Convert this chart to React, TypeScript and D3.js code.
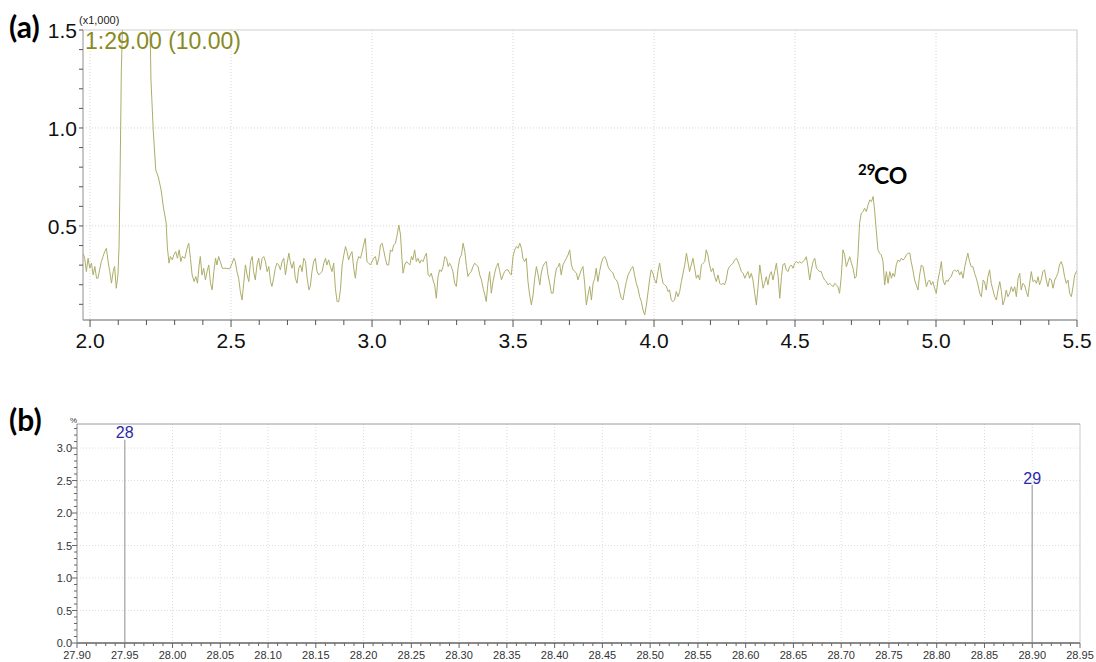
import React from "react";
import * as d3 from "d3";

// TIC trace, m/z 29 (time in min, intensity in counts)
const chromatogram: [number, number][] = [
  [1.975,361],[1.981,335],[1.987,267],[1.993,335],[1.999,284],[2.005,310],[2.011,250],[2.017,293],[2.023,233],[2.028,233],
  [2.034,276],[2.040,318],[2.046,344],[2.052,369],[2.058,386],[2.064,318],[2.070,267],[2.076,208],[2.082,267],[2.087,293],
  [2.093,182],[2.099,250],[2.103,403],[2.107,820],[2.111,1300],[2.116,1560],[2.130,1700],[2.160,1800],[2.190,1750],[2.213,1500],
  [2.216,1245],[2.224,990],[2.233,786],[2.242,750],[2.252,684],[2.260,597],[2.270,515],[2.274,393],[2.280,310],
  [2.285,344],[2.292,327],[2.297,352],[2.304,369],[2.310,335],[2.316,378],[2.322,318],[2.327,344],[2.336,335],[2.344,386],
  [2.350,412],[2.356,335],[2.362,250],[2.369,216],[2.375,242],[2.381,208],[2.387,301],[2.391,344],[2.397,250],[2.403,284],
  [2.409,225],[2.415,267],[2.421,301],[2.427,208],[2.433,174],[2.439,267],[2.445,335],[2.450,301],[2.456,344],[2.462,318],
  [2.469,284],[2.483,284],[2.495,281],[2.504,310],[2.510,335],[2.515,318],[2.521,267],[2.527,233],[2.533,165],[2.539,122],
  [2.545,208],[2.551,301],[2.557,250],[2.563,216],[2.569,318],[2.575,344],[2.580,267],[2.586,225],[2.592,301],[2.598,335],
  [2.604,276],[2.610,335],[2.616,344],[2.622,318],[2.628,267],[2.634,293],[2.640,216],[2.645,191],[2.651,233],[2.657,284],
  [2.663,310],[2.669,301],[2.675,276],[2.681,318],[2.687,335],[2.693,250],[2.699,310],[2.705,361],[2.710,318],[2.716,284],
  [2.722,318],[2.728,233],[2.734,208],[2.740,284],[2.746,301],[2.752,267],[2.758,335],[2.764,318],[2.770,233],[2.776,174],
  [2.781,191],[2.787,267],[2.793,318],[2.799,335],[2.805,267],[2.811,250],[2.817,259],[2.823,267],[2.829,310],[2.835,335],
  [2.840,301],[2.846,327],[2.852,293],[2.858,267],[2.864,310],[2.870,182],[2.876,114],[2.882,114],[2.888,174],[2.894,301],
  [2.900,352],[2.906,395],[2.911,369],[2.917,327],[2.923,352],[2.929,369],[2.935,284],[2.941,233],[2.947,318],[2.953,344],
  [2.959,335],[2.965,369],[2.970,403],[2.976,437],[2.982,318],[2.988,310],[2.994,301],[3.000,318],[3.006,335],[3.012,344],
  [3.018,301],[3.024,335],[3.030,403],[3.036,412],[3.041,378],[3.047,335],[3.053,301],[3.059,301],[3.065,378],[3.071,369],
  [3.077,403],[3.083,412],[3.089,454],[3.095,505],[3.101,454],[3.106,335],[3.110,259],[3.116,301],[3.122,318],[3.128,310],
  [3.134,301],[3.140,344],[3.145,327],[3.151,378],[3.157,318],[3.163,335],[3.169,310],[3.175,327],[3.181,318],[3.187,344],
  [3.193,361],[3.199,250],[3.205,242],[3.210,259],[3.216,225],[3.222,199],[3.228,131],[3.234,242],[3.240,276],[3.246,267],
  [3.252,293],[3.258,344],[3.264,335],[3.270,293],[3.275,310],[3.281,293],[3.287,267],[3.293,208],[3.299,191],[3.305,284],
  [3.311,335],[3.317,352],[3.323,412],[3.329,369],[3.335,293],[3.340,242],[3.346,259],[3.352,267],[3.358,293],[3.364,310],
  [3.370,301],[3.376,293],[3.382,250],[3.388,225],[3.394,182],[3.400,148],[3.405,114],[3.411,208],[3.417,267],[3.423,157],
  [3.429,216],[3.435,259],[3.441,293],[3.447,310],[3.453,267],[3.459,225],[3.465,250],[3.470,267],[3.476,276],[3.482,276],
  [3.488,259],[3.494,250],[3.500,344],[3.506,378],[3.512,395],[3.518,386],[3.524,412],[3.530,386],[3.535,335],[3.541,318],
  [3.547,335],[3.553,216],[3.559,148],[3.565,97],[3.571,148],[3.577,233],[3.583,293],[3.589,250],[3.595,199],[3.600,259],
  [3.606,293],[3.612,310],[3.618,318],[3.624,250],[3.630,208],[3.636,157],[3.642,157],[3.648,233],[3.654,284],[3.660,293],
  [3.665,310],[3.671,250],[3.677,301],[3.683,318],[3.689,335],[3.695,352],[3.701,378],[3.707,301],[3.713,276],[3.719,267],
  [3.725,259],[3.730,225],[3.736,250],[3.742,276],[3.748,293],[3.754,208],[3.760,97],[3.766,148],[3.772,191],[3.778,122],
  [3.784,208],[3.790,233],[3.795,284],[3.801,216],[3.807,267],[3.813,310],[3.819,335],[3.825,344],[3.831,327],[3.837,293],
  [3.843,276],[3.849,267],[3.855,259],[3.860,233],[3.866,225],[3.872,208],[3.878,165],[3.884,131],[3.890,122],[3.896,174],
  [3.902,216],[3.908,250],[3.914,267],[3.920,284],[3.925,293],[3.931,250],[3.937,208],[3.943,182],[3.949,139],[3.955,114],
  [3.961,71],[3.967,46],[3.973,97],[3.979,165],[3.985,233],[3.990,276],[3.996,259],[4.002,225],[4.008,208],[4.014,267],
  [4.020,310],[4.026,250],[4.032,208],[4.038,199],[4.044,191],[4.050,165],[4.055,174],[4.061,122],[4.067,114],[4.073,122],
  [4.079,165],[4.085,139],[4.091,165],[4.097,216],[4.103,259],[4.109,301],[4.115,361],[4.120,318],[4.126,267],[4.132,301],
  [4.138,335],[4.144,284],[4.150,233],[4.156,250],[4.162,225],[4.168,301],[4.174,310],[4.180,318],[4.185,378],[4.191,352],
  [4.197,301],[4.203,267],[4.209,284],[4.215,242],[4.221,216],[4.227,250],[4.233,208],[4.239,199],[4.245,208],[4.250,199],
  [4.256,225],[4.262,276],[4.268,293],[4.274,301],[4.280,310],[4.286,327],[4.292,335],[4.298,318],[4.304,293],[4.310,267],
  [4.316,258],[4.322,233],[4.327,250],[4.333,267],[4.339,233],[4.345,258],[4.351,224],[4.357,156],[4.363,97],[4.369,190],
  [4.375,301],[4.381,241],[4.387,182],[4.392,207],[4.398,241],[4.404,199],[4.410,250],[4.416,267],[4.422,224],[4.428,267],
  [4.434,310],[4.440,241],[4.446,131],[4.452,241],[4.457,301],[4.463,310],[4.469,276],[4.475,267],[4.481,292],[4.487,301],
  [4.493,284],[4.499,310],[4.505,318],[4.511,310],[4.517,318],[4.522,310],[4.528,318],[4.534,326],[4.540,343],[4.546,292],
  [4.552,224],[4.558,276],[4.564,318],[4.570,335],[4.576,284],[4.582,276],[4.587,267],[4.593,267],[4.599,241],[4.605,224],
  [4.611,216],[4.617,199],[4.623,207],[4.629,199],[4.635,190],[4.641,207],[4.647,199],[4.652,190],[4.658,156],[4.664,241],
  [4.670,378],[4.676,352],[4.682,292],[4.688,318],[4.694,343],[4.700,310],[4.706,284],[4.712,233],[4.717,241],[4.723,343],
  [4.729,514],[4.735,565],[4.741,573],[4.747,590],[4.753,573],[4.759,607],[4.765,633],[4.771,624],[4.777,650],[4.782,582],
  [4.788,480],[4.794,378],[4.800,361],[4.806,352],[4.812,318],[4.818,199],[4.824,267],[4.830,207],[4.836,267],[4.842,233],
  [4.847,258],[4.853,241],[4.859,301],[4.865,326],[4.871,318],[4.877,335],[4.883,326],[4.889,335],[4.895,352],[4.901,361],
  [4.907,361],[4.912,318],[4.918,276],[4.924,224],[4.930,199],[4.936,173],[4.942,250],[4.948,301],[4.954,292],[4.960,241],
  [4.966,190],[4.972,216],[4.977,224],[4.983,199],[4.989,216],[4.995,182],[5.001,156],[5.007,224],[5.013,267],[5.019,318],
  [5.025,224],[5.031,199],[5.037,224],[5.042,216],[5.048,233],[5.054,241],[5.060,267],[5.066,276],[5.072,267],[5.078,276],
  [5.084,250],[5.090,267],[5.096,233],[5.102,292],[5.107,326],[5.113,361],[5.119,318],[5.125,292],[5.131,292],[5.137,258],
  [5.143,233],[5.149,199],[5.155,156],[5.161,139],[5.167,224],[5.172,216],[5.178,173],[5.184,241],[5.190,276],[5.196,207],
  [5.202,173],[5.208,139],[5.214,122],[5.220,173],[5.226,216],[5.232,165],[5.237,97],[5.243,122],[5.249,173],[5.255,139],
  [5.261,156],[5.267,190],[5.273,165],[5.279,190],[5.285,139],[5.291,233],[5.297,258],[5.302,173],[5.308,207],[5.314,199],
  [5.320,165],[5.326,139],[5.332,207],[5.338,267],[5.344,216],[5.350,224],[5.356,207],[5.362,241],[5.367,199],[5.373,224],
  [5.379,267],[5.385,276],[5.391,224],[5.397,190],[5.403,233],[5.409,224],[5.415,182],[5.421,224],[5.427,241],[5.432,258],
  [5.438,301],[5.444,318],[5.450,292],[5.456,241],[5.462,207],[5.468,224],[5.474,156],[5.480,139],[5.486,190],[5.492,250],
  [5.498,267],[5.504,276],[5.510,267],[5.515,258]
];

const ticXLabels = [2.0, 2.5, 3.0, 3.5, 4.0, 4.5, 5.0, 5.5];
const ticYLabels = [500, 1000, 1500];

// mass spectrum (b)
const specXLabels = [27.90, 27.95, 28.00, 28.05, 28.10, 28.15, 28.20, 28.25, 28.30, 28.35, 28.40,
  28.45, 28.50, 28.55, 28.60, 28.65, 28.70, 28.75, 28.80, 28.85, 28.90, 28.95];
const specYLabels = [0.0, 0.5, 1.0, 1.5, 2.0, 2.5, 3.0];
const peakMz = [28, 29];
const peakPos = [27.95, 28.90];
const peakPct = [100, 2.43];

const W = 1096, H = 662;
const A = { left: 83, right: 1077, top: 30, bottom: 320 };
const B = { left: 77, right: 1080, top: 424, bottom: 643 };
const axisFont = "'Liberation Sans', Arial, sans-serif";
const boldFont = "Lato, 'Open Sans', sans-serif";

const App = () => {
  const xa = d3.scaleLinear().domain([1.975, 5.5]).range([A.left, A.right]);
  const ya = d3.scaleLinear().domain([20, 1500]).range([A.bottom, A.top]);
  const xb = d3.scaleLinear().domain([27.9, 28.95]).range([B.left, B.right]);
  const yb = d3.scaleLinear().domain([0, 3.37]).range([B.bottom, B.top]);

  const line = d3.line<[number, number]>().x(d => xa(d[0])).y(d => ya(d[1]));

  const aMinorX = d3.range(20, 56).map(i => i / 10);
  const aMinorY = d3.range(1, 16).map(i => i * 100);
  const bMinorX = d3.range(2790, 2896).map(i => i / 100);
  const bMinorY = d3.range(0, 34).map(i => i / 10);
  const fmt2 = d3.format(".2f");
  const fmt1 = d3.format(".1f");

  return (
    <svg width={W} height={H} style={{ position: "absolute", left: 0, top: 0, background: "#fff" }}>
      <defs>
        <clipPath id="clipA">
          <rect x={A.left} y={A.top} width={A.right - A.left} height={A.bottom - A.top} />
        </clipPath>
      </defs>

      {/* ---------- panel (a) ---------- */}
      <text x={9} y={38} fontFamily={boldFont} fontWeight="bold" fontSize={30}>(a)</text>
      <g stroke="#d6d6d6" strokeDasharray="1,2">
        {ticXLabels.map(t => <line key={t} x1={xa(t)} x2={xa(t)} y1={A.top} y2={A.bottom} />)}
        {ticYLabels.slice(0, 2).map(v => <line key={v} x1={A.left} x2={A.right} y1={ya(v)} y2={ya(v)} />)}
      </g>
      <rect x={A.left} y={A.top} width={A.right - A.left} height={A.bottom - A.top} fill="none" stroke="#d0d0d0" />
      <line x1={A.left} x2={A.left} y1={A.top} y2={A.bottom} stroke="#a8a8a8" />
      <line x1={A.left} x2={A.right} y1={A.bottom} y2={A.bottom} stroke="#a0a0a0" strokeWidth={1.5} />
      <g stroke="#555">
        {aMinorX.map(t => {
          const major = Math.abs(t * 2 - Math.round(t * 2)) < 1e-6;
          return <line key={t} x1={xa(t)} x2={xa(t)} y1={A.bottom} y2={A.bottom + (major ? 7 : 5)} />;
        })}
        {aMinorY.map(v => <line key={v} x1={A.left - 4} x2={A.left} y1={ya(v)} y2={ya(v)} />)}
      </g>
      <g fontFamily={axisFont} fontSize={21} fill="#111">
        {ticXLabels.map(t => (
          <text key={t} x={xa(t)} y={A.bottom + 28} textAnchor="middle">{fmt1(t)}</text>
        ))}
        {ticYLabels.map(v => (
          <text key={v} x={A.left - 6} y={ya(v) + 8} textAnchor="end">{fmt1(v / 1000)}</text>
        ))}
      </g>
      <text x={79} y={24} fontFamily={axisFont} fontSize={11} fill="#222">(x1,000)</text>

      <path d={line(chromatogram) || ""} fill="none" stroke="#adad6a" strokeWidth={1} clipPath="url(#clipA)" />

      <text x={85} y={49} fontFamily={axisFont} fontSize={23} fill="#8a8a24">1:29.00 (10.00)</text>
      <text x={858} y={175} fontFamily={boldFont} fontWeight="bold" fontSize={15}>29</text>
      <text x={874} y={184} fontFamily={boldFont} fontWeight="bold" fontSize={23}>CO</text>

      {/* ---------- panel (b) ---------- */}
      <text x={9} y={431} fontFamily={boldFont} fontWeight="bold" fontSize={30}>(b)</text>
      <g stroke="#dcdcdc" strokeDasharray="1,2">
        {specXLabels.map(t => <line key={t} x1={xb(t)} x2={xb(t)} y1={B.top} y2={B.bottom} />)}
        {specYLabels.slice(1).map(v => <line key={v} x1={B.left} x2={B.right} y1={yb(v)} y2={yb(v)} />)}
      </g>
      <line x1={B.right} x2={B.right} y1={B.top} y2={B.bottom} stroke="#d0d0d0" />
      <line x1={B.left} x2={B.right} y1={B.top} y2={B.top} stroke="#9a9a9a" />
      <line x1={B.left} x2={B.left} y1={B.top} y2={B.bottom} stroke="#8a8a8a" />

      {peakPos.map((p, i) => {
        const clipped = peakPct[i] > 3.37;
        const yTop = clipped ? B.top + 16 : yb(peakPct[i]);
        return (
          <g key={peakMz[i]}>
            <line x1={xb(p)} x2={xb(p)} y1={B.bottom} y2={yTop} stroke="#b4b4b4" strokeWidth={1.5} />
            <text x={xb(p)} y={clipped ? B.top + 14 : yTop - 1} textAnchor="middle"
              fontFamily={axisFont} fontSize={16} fill="#2a2aa8">{peakMz[i]}</text>
          </g>
        );
      })}

      <line x1={B.left} x2={B.right} y1={B.bottom} y2={B.bottom} stroke="#8a8a8a" strokeWidth={2} />
      <g stroke="#666">
        {bMinorX.map(t => {
          const major = Math.abs(t * 20 - Math.round(t * 20)) < 1e-6;
          return <line key={t} x1={xb(t)} x2={xb(t)} y1={B.bottom} y2={B.bottom + (major ? 5 : 3)} />;
        })}
        {bMinorY.map(v => {
          const major = Math.abs(v * 2 - Math.round(v * 2)) < 1e-6;
          return <line key={v} x1={B.left - (major ? 5 : 3)} x2={B.left} y1={yb(v)} y2={yb(v)} />;
        })}
      </g>
      <g fontFamily={axisFont} fontSize={11} fill="#333">
        {specXLabels.map(t => (
          <text key={t} x={xb(t)} y={B.bottom + 16} textAnchor="middle">{fmt2(t)}</text>
        ))}
        {specYLabels.map(v => (
          <text key={v} x={B.left - 5} y={yb(v) + 4} textAnchor="end">{fmt1(v)}</text>
        ))}
      </g>
      <text x={70} y={423} fontFamily={axisFont} fontSize={8} fill="#333">%</text>
    </svg>
  );
};

export default App;
